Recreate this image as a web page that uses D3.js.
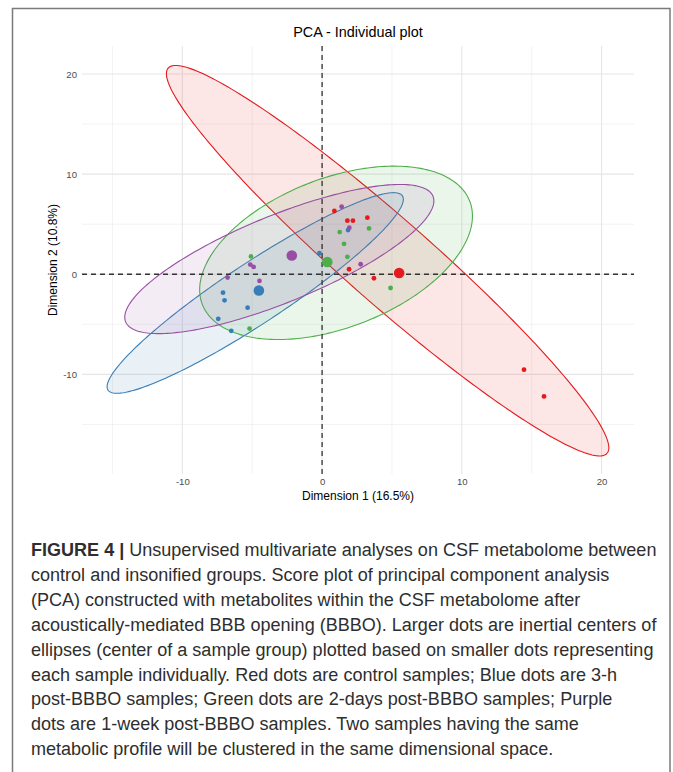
<!DOCTYPE html>
<html><head><meta charset="utf-8">
<script src="https://cdn.jsdelivr.net/npm/d3@7"></script>
<style>html,body{margin:0;padding:0;background:#fff;}</style>
</head><body>
<script>
// ---------- data ----------
const groupNames = ["Control", "3-h post-BBBO", "2-days post-BBBO", "1-week post-BBBO"];
// individual samples (Dimension 1, Dimension 2) and their group index
const sampleGroup = [0,0,0,0,0,0,0,0, 1,1,1,1,1,1,1, 2,2,2,2,2,2,2, 3,3,3,3,3,3,3];
const sampleDim1 = [0.88, 1.81, 2.21, 3.24, 1.93, 3.71, 14.45, 15.88,
                    -7.09, -6.98, -5.33, -7.43, -6.50, 1.86, -0.19,
                    -5.09, -5.19, 1.26, 3.36, 1.57, 1.81, 4.90,
                    -5.14, -4.90, -6.76, -4.48, 1.40, 1.95, 2.76];
const sampleDim2 = [6.32, 5.35, 5.35, 5.65, 0.50, -0.40, -9.53, -12.20,
                    -1.84, -2.60, -3.34, -4.45, -5.65, 4.41, 2.10,
                    1.78, -5.42, 4.21, 4.58, 3.04, 1.74, -1.37,
                    0.97, 0.73, -0.33, -0.67, 6.75, 4.65, 1.00];
// ellipse parameters per group: centre, half-range on each axis, correlation
const ellipseCx  = [4.69, -4.785, 1.00, -3.06];
const ellipseCy  = [1.355, -1.87, 2.14, 1.52];
const ellipseRx  = [15.83, 10.60, 9.76, 11.06];
const ellipseRy  = [19.50, 10.02, 8.66, 7.45];
const ellipseRho = [-0.958, 0.934, 0.425, 0.78];
// axes
const xDomain = [-17.18, 22.32];
const yDomain = [-19.95, 22.80];
const xTicks = [-10, 0, 10, 20];
const yTicks = [-10, 0, 10, 20];
const xMinor = [-15, -5, 5, 15];
const yMinor = [-15, -5, 5, 15];
const titleText = "PCA - Individual plot";
const xLabel = "Dimension 1 (16.5%)";
const yLabel = "Dimension 2 (10.8%)";
const captionBold = "FIGURE 4 | ";
const captionLines = [
  "Unsupervised multivariate analyses on CSF metabolome between",
  "control and insonified groups. Score plot of principal component analysis",
  "(PCA) constructed with metabolites within the CSF metabolome after",
  "acoustically-mediated BBB opening (BBBO). Larger dots are inertial centers of",
  "ellipses (center of a sample group) plotted based on smaller dots representing",
  "each sample individually. Red dots are control samples; Blue dots are 3-h",
  "post-BBBO samples; Green dots are 2-days post-BBBO samples; Purple",
  "dots are 1-week post-BBBO samples. Two samples having the same",
  "metabolic profile will be clustered in the same dimensional space."
];

// ---------- style ----------
const palette = ["#E41A1C", "#377EB8", "#4DAF4A", "#984EA3"];
const W = 673, H = 772;
const panel = {left: 82, right: 634, top: 46, bottom: 474};
const font = "'Liberation Sans', Arial, Helvetica, sans-serif";

const svg = d3.select("body").append("svg").attr("width", W).attr("height", H)
  .style("font-family", font);

// frame
svg.append("rect").attr("x", 12.5).attr("y", 8.5).attr("width", 657.5).attr("height", 800)
  .attr("fill", "none").attr("stroke", "#7a7a7a").attr("stroke-width", 1.5);

const x = d3.scaleLinear().domain(xDomain).range([panel.left, panel.right]);
const y = d3.scaleLinear().domain(yDomain).range([panel.bottom, panel.top]);

const g = svg.append("g");
// grid
g.selectAll(".vminor").data(xMinor).join("line")
  .attr("x1", d => x(d)).attr("x2", d => x(d)).attr("y1", panel.top).attr("y2", panel.bottom)
  .attr("stroke", "#EBEBEB").attr("stroke-width", 0.6);
g.selectAll(".hminor").data(yMinor).join("line")
  .attr("y1", d => y(d)).attr("y2", d => y(d)).attr("x1", panel.left).attr("x2", panel.right)
  .attr("stroke", "#EBEBEB").attr("stroke-width", 0.6);
g.selectAll(".vmajor").data(xTicks).join("line")
  .attr("x1", d => x(d)).attr("x2", d => x(d)).attr("y1", panel.top).attr("y2", panel.bottom)
  .attr("stroke", "#E6E6E6").attr("stroke-width", 1.1);
g.selectAll(".hmajor").data(yTicks).join("line")
  .attr("y1", d => y(d)).attr("y2", d => y(d)).attr("x1", panel.left).attr("x2", panel.right)
  .attr("stroke", "#E6E6E6").attr("stroke-width", 1.1);

// axes (labels only, ggplot minimal style)
const fmt = d => String(d);
const xAxis = d3.axisBottom(x).tickValues(xTicks).tickSize(0).tickPadding(0).tickFormat(fmt);
const yAxis = d3.axisLeft(y).tickValues(yTicks).tickSize(0).tickPadding(0).tickFormat(fmt);
const gx = svg.append("g").attr("transform", `translate(0,${panel.bottom + 4})`).call(xAxis);
const gy = svg.append("g").attr("transform", `translate(${panel.left - 5},0)`).call(yAxis);
[gx, gy].forEach(a => {
  a.select(".domain").remove();
  a.selectAll("text").attr("fill", "#4D4D4D").style("font-size", "9.6px").style("font-family", font);
});
gx.selectAll("text").attr("dy", "0.71em");

// ellipses
const steps = d3.range(0, 241).map(i => i / 240 * 2 * Math.PI);
const line = d3.line().x(p => x(p[0])).y(p => y(p[1])).curve(d3.curveLinearClosed);
groupNames.forEach((name, k) => {
  const s = Math.sqrt(1 - ellipseRho[k] * ellipseRho[k]);
  const pts = steps.map(t => [
    ellipseCx[k] + ellipseRx[k] * Math.cos(t),
    ellipseCy[k] + ellipseRy[k] * (ellipseRho[k] * Math.cos(t) + s * Math.sin(t))
  ]);
  g.append("path").attr("d", line(pts))
    .attr("fill", palette[k]).attr("fill-opacity", 0.11)
    .attr("stroke", palette[k]).attr("stroke-width", 1.1);
});

// reference dashed lines
g.append("line").attr("x1", x(0)).attr("x2", x(0)).attr("y1", panel.top).attr("y2", panel.bottom)
  .attr("stroke", "#333").attr("stroke-width", 1.3).attr("stroke-dasharray", "5,4");
g.append("line").attr("y1", y(0)).attr("y2", y(0)).attr("x1", panel.left).attr("x2", panel.right)
  .attr("stroke", "#333").attr("stroke-width", 1.3).attr("stroke-dasharray", "5,4");

// samples
const samples = sampleDim1.map((d, i) => ({g: sampleGroup[i], d1: d, d2: sampleDim2[i]}));
g.selectAll(".pt").data(samples).join("circle")
  .attr("cx", d => x(d.d1)).attr("cy", d => y(d.d2)).attr("r", 2.4)
  .attr("fill", d => palette[d.g]);

// group centres (means)
const centres = groupNames.map((n, k) => {
  const m = samples.filter(s => s.g === k);
  return {g: k, d1: d3.mean(m, s => s.d1), d2: d3.mean(m, s => s.d2)};
});
g.selectAll(".ctr").data(centres).join("circle")
  .attr("cx", d => x(d.d1)).attr("cy", d => y(d.d2)).attr("r", 5.3)
  .attr("fill", d => palette[d.g]);

// titles
svg.append("text").attr("x", (panel.left + panel.right) / 2).attr("y", 37.3)
  .attr("text-anchor", "middle").style("font-size", "14.4px").attr("fill", "#000").text(titleText);
svg.append("text").attr("x", (panel.left + panel.right) / 2).attr("y", 500)
  .attr("text-anchor", "middle").style("font-size", "12px").attr("fill", "#000").text(xLabel);
svg.append("text").attr("transform", `translate(57,${(panel.top + panel.bottom) / 2}) rotate(-90)`)
  .attr("text-anchor", "middle").style("font-size", "12px").attr("fill", "#000").text(yLabel);

// caption
const cap = svg.append("g").attr("fill", "#2e2e2e");
const capX = 31, capY0 = 556, capDy = 24.9;
let fs = 17;
const t0 = cap.append("text").attr("x", capX).attr("y", capY0).style("font-size", fs + "px");
t0.append("tspan").style("font-weight", "bold").text(captionBold);
t0.append("tspan").text(captionLines[0]);
const w0 = t0.node().getComputedTextLength();
fs = fs * 626 / w0;
t0.style("font-size", fs + "px");
captionLines.slice(1).forEach((l, i) => {
  cap.append("text").attr("x", capX).attr("y", capY0 + (i + 1) * capDy)
    .style("font-size", fs + "px").text(l);
});
</script>
</body></html>
